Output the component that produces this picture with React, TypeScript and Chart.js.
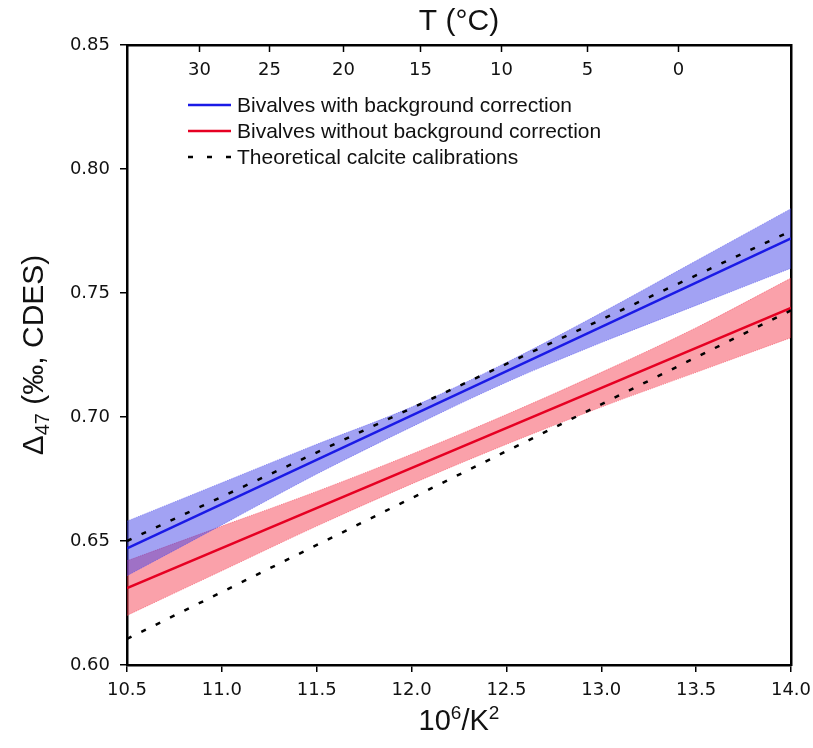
import React, { useEffect, useRef } from 'react';
import { Chart, registerables } from 'chart.js';

Chart.register(...registerables);

// Confidence band sample positions (10^6/K^2)
const bandX = [10.5, 11.0, 11.5, 12.0, 12.5, 13.0, 13.5, 14.0];
const blueUpper = [0.658, 0.6735, 0.689, 0.704, 0.722, 0.742, 0.763, 0.784];
const blueLower = [0.636, 0.6565, 0.677, 0.696, 0.714, 0.730, 0.745, 0.760];
const redUpper = [0.642, 0.656, 0.670, 0.685, 0.701, 0.718, 0.736, 0.756];
const redLower = [0.620, 0.638, 0.656, 0.673, 0.689, 0.704, 0.718, 0.732];

// Regression lines and theoretical calibrations, given at the axis ends
const lineX = [10.5, 14.0];
const blueFit = [0.647, 0.772];
const redFit = [0.631, 0.744];
const calciteUpper = [0.650, 0.775];
const calciteLower = [0.6105, 0.743];

// Axis ticks
const xTicks = [10.5, 11.0, 11.5, 12.0, 12.5, 13.0, 13.5, 14.0];
const yTicks = [0.6, 0.65, 0.7, 0.75, 0.8, 0.85];
const tempTicks = [30, 25, 20, 15, 10, 5, 0];

const legendLabels = [
  'Bivalves with background correction',
  'Bivalves without background correction',
  'Theoretical calcite calibrations',
];

const BLUE = '#1a1ae6';
const RED = '#e60022';
const BLUE_FILL = 'rgba(60,60,230,0.48)';
const RED_FILL = 'rgba(245,50,70,0.46)';
const BLUE_EDGE = 'rgba(80,80,240,0.55)';
const RED_EDGE = 'rgba(245,60,80,0.55)';

const TICK_FONT = 'DejaVu Sans';
const TEXT_FONT = 'Liberation Sans, Arial, sans-serif';

const pts = (xs: number[], ys: number[]) => xs.map((x, i) => ({ x, y: ys[i] }));

// 10^6/K^2 for a temperature in °C
const invK2 = (tc: number) => 1e6 / Math.pow(tc + 273.15, 2);

type Seg = { t: string; size: number; dy?: number };

function drawRich(ctx: CanvasRenderingContext2D, segs: Seg[], cx: number, cy: number) {
  let total = 0;
  for (const s of segs) {
    ctx.font = `${s.size}px ${TEXT_FONT}`;
    total += ctx.measureText(s.t).width;
  }
  let x = cx - total / 2;
  ctx.textBaseline = 'middle';
  ctx.textAlign = 'left';
  for (const s of segs) {
    ctx.font = `${s.size}px ${TEXT_FONT}`;
    ctx.fillText(s.t, x, cy + (s.dy || 0));
    x += ctx.measureText(s.t).width;
  }
}

const decorations = {
  id: 'decorations',
  afterDraw(chart: any) {
    const ctx: CanvasRenderingContext2D = chart.ctx;
    const area = chart.chartArea;
    const topScale = chart.scales.xTop;
    ctx.save();
    ctx.fillStyle = '#111';

    // Temperature ticks: inward marks with labels below the top frame
    ctx.strokeStyle = '#000';
    ctx.lineWidth = 1.5;
    ctx.font = `18px ${TICK_FONT}`;
    ctx.textAlign = 'center';
    ctx.textBaseline = 'middle';
    tempTicks.forEach((t) => {
      const px = Math.round(topScale.getPixelForValue(invK2(t))) + 0.5;
      ctx.beginPath();
      ctx.moveTo(px, area.top);
      ctx.lineTo(px, area.top + 7);
      ctx.stroke();
      ctx.fillText(String(t), px, area.top + 25);
    });

    // Top axis title
    drawRich(ctx, [{ t: 'T (°C)', size: 30 }], (area.left + area.right) / 2, 22);

    // Bottom axis title
    drawRich(
      ctx,
      [
        { t: '10', size: 29 },
        { t: '6', size: 19, dy: -8 },
        { t: '/K', size: 29 },
        { t: '2', size: 19, dy: -8 },
      ],
      (area.left + area.right) / 2,
      722
    );

    // Left axis title (rotated)
    ctx.save();
    ctx.translate(35, (area.top + area.bottom) / 2);
    ctx.rotate(-Math.PI / 2);
    drawRich(
      ctx,
      [
        { t: 'Δ', size: 30 },
        { t: '47', size: 20, dy: 8 },
        { t: ' (‰, CDES)', size: 30 },
      ],
      0,
      0
    );
    ctx.restore();

    // Legend
    const rows = [105, 131, 157];
    const x0 = 188;
    const x1 = 231;
    ctx.font = `21px ${TEXT_FONT}`;
    ctx.textBaseline = 'middle';
    ctx.textAlign = 'left';
    rows.forEach((y, i) => {
      ctx.beginPath();
      ctx.lineWidth = 2.5;
      if (i === 0) {
        ctx.strokeStyle = BLUE;
        ctx.setLineDash([]);
      } else if (i === 1) {
        ctx.strokeStyle = RED;
        ctx.setLineDash([]);
      } else {
        ctx.strokeStyle = '#000';
        ctx.setLineDash([5, 14]);
      }
      ctx.moveTo(x0, y);
      ctx.lineTo(x1, y);
      ctx.stroke();
      ctx.setLineDash([]);
      ctx.fillStyle = '#111';
      ctx.fillText(legendLabels[i], 237, y + 1);
    });

    ctx.restore();
  },
};

export default function App() {
  const canvasRef = useRef<HTMLCanvasElement | null>(null);

  useEffect(() => {
    const canvas = canvasRef.current;
    if (!canvas) return;

    const bandStyle = (color: string, edge: string) => ({
      borderColor: edge,
      backgroundColor: color,
      borderWidth: 1,
      borderDash: [1, 1],
      pointRadius: 0,
      cubicInterpolationMode: 'monotone' as const,
    });

    const chart = new Chart(canvas, {
      type: 'line',
      data: {
        datasets: [
          {
            label: 'calcite upper',
            data: pts(lineX, calciteUpper),
            borderColor: '#000',
            borderWidth: 2.5,
            borderDash: [5, 11],
            pointRadius: 0,
            fill: false,
            order: 0,
          },
          {
            label: 'calcite lower',
            data: pts(lineX, calciteLower),
            borderColor: '#000',
            borderWidth: 2.5,
            borderDash: [5, 11],
            pointRadius: 0,
            fill: false,
            order: 0,
          },
          {
            label: legendLabels[0],
            data: pts(lineX, blueFit),
            borderColor: BLUE,
            borderWidth: 2.5,
            pointRadius: 0,
            fill: false,
            order: 1,
          },
          {
            label: legendLabels[1],
            data: pts(lineX, redFit),
            borderColor: RED,
            borderWidth: 2.5,
            pointRadius: 0,
            fill: false,
            order: 2,
          },
          {
            label: 'blue upper',
            data: pts(bandX, blueUpper),
            ...bandStyle(BLUE_FILL, BLUE_EDGE),
            fill: '+1',
            order: 3,
          },
          {
            label: 'blue lower',
            data: pts(bandX, blueLower),
            ...bandStyle(BLUE_FILL, BLUE_EDGE),
            fill: false,
            order: 3,
          },
          {
            label: 'red upper',
            data: pts(bandX, redUpper),
            ...bandStyle(RED_FILL, RED_EDGE),
            fill: '+1',
            order: 4,
          },
          {
            label: 'red lower',
            data: pts(bandX, redLower),
            ...bandStyle(RED_FILL, RED_EDGE),
            fill: false,
            order: 4,
          },
        ],
      },
      options: {
        responsive: false,
        animation: false,
        layout: { padding: { left: 0, right: 22, top: 0, bottom: 0 } },
        plugins: {
          legend: { display: false },
          tooltip: { enabled: false },
          title: { display: false },
        },
        scales: {
          x: {
            type: 'linear',
            position: 'bottom',
            min: 10.5,
            max: 14.0,
            afterBuildTicks: (scale: any) => {
              scale.ticks = xTicks.map((v) => ({ value: v }));
            },
            afterFit: (scale: any) => {
              scale.height = 83;
              scale.paddingLeft = 0;
              scale.paddingRight = 0;
            },
            ticks: {
              autoSkip: false,
              maxRotation: 0,
              padding: 8,
              color: '#111',
              font: { family: TICK_FONT, size: 18 },
              callback: (v: any) => Number(v).toFixed(1),
            },
            grid: {
              drawOnChartArea: false,
              drawTicks: true,
              tickLength: 7,
              color: '#000',
              lineWidth: 1.5,
            },
            border: { display: true, color: '#000', width: 2.5 },
          },
          xTop: {
            type: 'linear',
            position: 'top',
            min: 10.5,
            max: 14.0,
            afterFit: (scale: any) => {
              scale.height = 45;
              scale.paddingLeft = 0;
              scale.paddingRight = 0;
            },
            ticks: { display: false },
            grid: { drawOnChartArea: false, drawTicks: false },
            border: { display: true, color: '#000', width: 2.5 },
          },
          y: {
            type: 'linear',
            position: 'left',
            min: 0.6,
            max: 0.85,
            afterBuildTicks: (scale: any) => {
              scale.ticks = yTicks.map((v) => ({ value: v }));
            },
            afterFit: (scale: any) => {
              scale.width = 127;
            },
            ticks: {
              autoSkip: false,
              padding: 10,
              color: '#111',
              font: { family: TICK_FONT, size: 18 },
              callback: (v: any) => Number(v).toFixed(2),
            },
            grid: {
              drawOnChartArea: false,
              drawTicks: true,
              tickLength: 7,
              color: '#000',
              lineWidth: 1.5,
            },
            border: { display: true, color: '#000', width: 2.5 },
          },
          yRight: {
            type: 'linear',
            position: 'right',
            min: 0.6,
            max: 0.85,
            afterFit: (scale: any) => {
              scale.width = 0;
            },
            ticks: { display: false },
            grid: { drawOnChartArea: false, drawTicks: false },
            border: { display: true, color: '#000', width: 2.5 },
          },
        },
      } as any,
      plugins: [decorations],
    });

    return () => {
      chart.destroy();
    };
  }, []);

  return (
    <div style={{ position: 'absolute', left: 0, top: 0, width: 813, height: 748, background: '#fff' }}>
      <canvas ref={canvasRef} width={813} height={748} style={{ display: 'block' }} />
    </div>
  );
}
